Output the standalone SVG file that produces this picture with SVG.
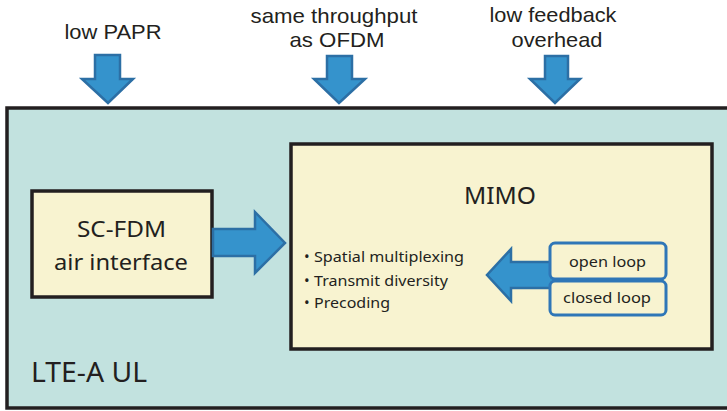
<svg xmlns="http://www.w3.org/2000/svg" width="727" height="411" viewBox="0 0 727 411">
  <style>
    .top { font-family: "Liberation Sans", Arial, sans-serif; font-size: 21px; fill: #231f20; text-anchor: middle; }
    .body { font-family: "Noto Sans", "Open Sans", sans-serif; fill: #231f20; }
    .box { fill: #f8f3d0; stroke: #231f20; stroke-width: 3.5; }
    .arrow { fill: #3593cc; stroke: #2c6fa5; stroke-width: 2.5; stroke-linejoin: miter; }
    .loop { fill: #f8f3d0; stroke: #2f76b7; stroke-width: 3; }
  </style>

  <rect x="0" y="0" width="727" height="411" fill="#ffffff"/>

  <!-- system frame -->
  <g id="lte-a-ul">
    <rect x="7" y="108" width="730" height="300" fill="#c2e2df" stroke="#231f20" stroke-width="3.5"/>
    <text class="body" x="31" y="382" font-size="27" textLength="116" lengthAdjust="spacingAndGlyphs">LTE-A UL</text>
  </g>

  <!-- requirement labels -->
  <g id="req-papr">
    <text class="top" x="113" y="39" textLength="97" lengthAdjust="spacingAndGlyphs">low PAPR</text>
  </g>
  <g id="req-throughput">
    <text class="top" x="334" y="23" textLength="167" lengthAdjust="spacingAndGlyphs">same throughput</text>
    <text class="top" x="337" y="47" textLength="95" lengthAdjust="spacingAndGlyphs">as OFDM</text>
  </g>
  <g id="req-feedback">
    <text class="top" x="553" y="22" textLength="127" lengthAdjust="spacingAndGlyphs">low feedback</text>
    <text class="top" x="557" y="47" textLength="91" lengthAdjust="spacingAndGlyphs">overhead</text>
  </g>

  <!-- SC-FDM node -->
  <g id="scfdm">
    <rect class="box" x="32" y="191" width="180" height="106"/>
    <text class="body" x="121.5" y="237" font-size="22" text-anchor="middle" textLength="89" lengthAdjust="spacingAndGlyphs">SC-FDM</text>
    <text class="body" x="121" y="270" font-size="22" text-anchor="middle" textLength="134" lengthAdjust="spacingAndGlyphs">air interface</text>
  </g>

  <!-- MIMO node -->
  <g id="mimo">
    <rect class="box" x="291" y="144" width="421" height="205"/>
    <text class="body" x="500" y="204" font-size="24" text-anchor="middle" textLength="72" lengthAdjust="spacingAndGlyphs">MIMO</text>
    <g class="body" font-size="15">
      <text x="304" y="262">•</text>
      <text x="314" y="262" textLength="150" lengthAdjust="spacingAndGlyphs">Spatial multiplexing</text>
      <text x="304" y="286">•</text>
      <text x="314" y="286" textLength="134" lengthAdjust="spacingAndGlyphs">Transmit diversity</text>
      <text x="304" y="308">•</text>
      <text x="314" y="308" textLength="76" lengthAdjust="spacingAndGlyphs">Precoding</text>
    </g>
  </g>

  <!-- connectors -->
  <g id="connectors">
    <path class="arrow" d="M95,55 H120 V79 H133 L108,103 L82,79 H95 Z"/>
    <path class="arrow" d="M327,56 H352 V79 H365 L339,103 L314,79 H327 Z"/>
    <path class="arrow" d="M545,56 H568 V79 H580 L555,103 L530,79 H545 Z"/>
    <path class="arrow" d="M213,229 H255 V212 L285,243 L255,273 V256 H213 Z"/>
    <path class="arrow" d="M556,262 H511 V249 L487,275 L511,301 V288 H556 Z"/>
  </g>

  <!-- loop options -->
  <g id="open-loop">
    <rect class="loop" x="550" y="243" width="116" height="36" rx="5"/>
    <text class="body" x="607.5" y="267" font-size="15" text-anchor="middle" textLength="77" lengthAdjust="spacingAndGlyphs">open loop</text>
  </g>
  <g id="closed-loop">
    <rect class="loop" x="550" y="281" width="116" height="34" rx="5"/>
    <text class="body" x="607" y="303" font-size="15" text-anchor="middle" textLength="88" lengthAdjust="spacingAndGlyphs">closed loop</text>
  </g>
</svg>
